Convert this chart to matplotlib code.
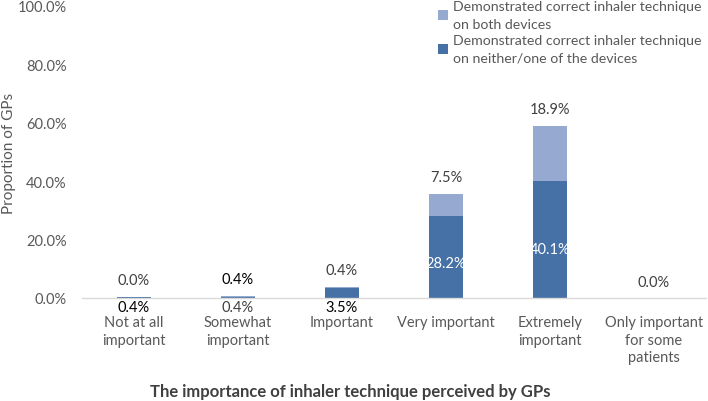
import matplotlib
matplotlib.use("Agg")
import matplotlib.pyplot as plt
from matplotlib.ticker import FuncFormatter

plt.rcParams['font.family'] = ['Lato', 'DejaVu Sans']

categories = ["Not at all\nimportant", "Somewhat\nimportant", "Important",
              "Very important", "Extremely\nimportant", "Only important\nfor some\npatients"]
neither_one = [0.4, 0.4, 3.5, 28.2, 40.1, 0.0]
both = [0.0, 0.4, 0.4, 7.5, 18.9, 0.0]
yticks = [0, 20, 40, 60, 80, 100]
series_labels = ["Demonstrated correct inhaler technique\non both devices",
                 "Demonstrated correct inhaler technique\non neither/one of the devices"]
xlabel = "The importance of inhaler technique perceived by GPs"
ylabel = "Proportion of GPs"

dark = "#4571A6"
light = "#95A9D1"
gray = "#404040"

fig = plt.figure(figsize=(7.08, 4.02), dpi=100)
ax = fig.add_axes([82/708, 1-299/402, (706-82)/708, (299-7)/402])

x = list(range(len(categories)))
w = 0.32
b1 = ax.bar(x, neither_one, w, color=dark, label=series_labels[1])
b2 = ax.bar(x, both, w, bottom=neither_one, color=light, label=series_labels[0])

ax.set_xlim(-0.5, len(categories) - 0.5)
ax.set_ylim(0, 100)
ax.set_yticks(yticks)
ax.yaxis.set_major_formatter(FuncFormatter(lambda v, p: f"{v:.1f}%"))
ax.set_xticks(x)
ax.set_xticklabels(categories, fontsize=10.5, color="#595959", linespacing=1.35)
ax.tick_params(axis='y', labelsize=10.5, colors="#595959", length=0, pad=11)
ax.tick_params(axis='x', length=0, pad=12)
for s in ['top', 'right', 'left']:
    ax.spines[s].set_visible(False)
ax.spines['bottom'].set_color("#D9D9D9")
ax.spines['bottom'].set_linewidth(1.0)

top_colors = [gray, "black", gray, gray, gray, gray]
bottom_colors = ["black", gray, "black", "white", "white", "white"]
for i in x:
    total = neither_one[i] + both[i]
    ax.text(i, total + 3.2, f"{both[i]:.1f}%", ha='center', va='bottom',
            fontsize=10.5, color=top_colors[i])
    if neither_one[i] == 0:
        continue
    if neither_one[i] > 10:
        ax.text(i, neither_one[i] * 0.42, f"{neither_one[i]:.1f}%", ha='center', va='center',
                fontsize=10.5, color="white")
    else:
        ax.text(i, -0.8, f"{neither_one[i]:.1f}%", ha='center', va='top',
                fontsize=10.5, color=bottom_colors[i])

ax.set_ylabel(ylabel, fontsize=11, color="#595959")
ax.yaxis.set_label_coords(-0.105, 0.5)

fig.text(350/708, 1-392/402, xlabel, ha='center', va='center', fontsize=12,
         fontweight='bold', color=gray)

leg = ax.legend(handles=[b2, b1], loc='upper left', bbox_to_anchor=(437/708, 1.0),
                bbox_transform=fig.transFigure, frameon=False, fontsize=10.2,
                handlelength=0.7, handleheight=0.7, handletextpad=0.3,
                labelspacing=0.3, borderaxespad=0, borderpad=0.1)
for t in leg.get_texts():
    t.set_color("#595959")
    t.set_linespacing(1.55)

fig.savefig("out.png", dpi=100)
